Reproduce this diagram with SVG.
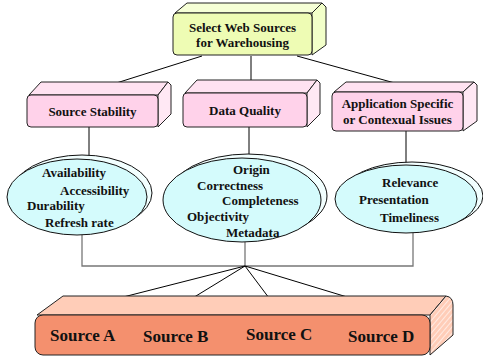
<svg xmlns="http://www.w3.org/2000/svg" width="483" height="356" viewBox="0 0 483 356">
<style>
text{font-family:"Liberation Serif","Times New Roman",serif;font-weight:700;fill:#111}
.bx{stroke:#222;stroke-width:1;stroke-linejoin:round}
.c{stroke:#000;stroke-width:1;fill:none}
.g{stroke:#777;stroke-width:1.3;fill:none}
.el{fill:#d4fbfc;stroke:#111;stroke-width:1}
.sh{fill:#f2ffff;stroke:#111;stroke-width:1}
.t12{font-size:13px}
.t16{font-size:17px}
</style>
<defs>
<pattern id="hatch" width="4" height="4" patternUnits="userSpaceOnUse" patternTransform="rotate(40)">
<rect width="4" height="4" fill="#ffcdb8"/>
<line x1="0" y1="0" x2="0" y2="4" stroke="#fff" stroke-width="1.2"/>
</pattern>
</defs>
<rect width="483" height="356" fill="#fff"/>

<g id="connectors">
<line class="c" x1="202" y1="56" x2="110" y2="85"/>
<line class="c" x1="251" y1="56" x2="251" y2="86"/>
<line class="c" x1="297" y1="56" x2="402" y2="85"/>
<line class="c" x1="89" y1="127" x2="89" y2="156"/>
<line class="c" x1="249" y1="127" x2="249" y2="155"/>
<line class="c" x1="406" y1="131" x2="406" y2="163"/>
<polyline class="g" points="82,235 82,266 413,266 413,233"/>
<line class="g" x1="245" y1="242" x2="245" y2="266"/>
<line class="c" x1="245" y1="266" x2="84" y2="307"/>
<line class="c" x1="245" y1="266" x2="178" y2="307"/>
<line class="c" x1="245" y1="266" x2="275" y2="306"/>
<line class="c" x1="245" y1="266" x2="380" y2="307"/>
</g>

<g font-family="Liberation Serif, Times New Roman, serif" font-weight="bold">
<g id="select">
<polygon class="bx" points="175,13 187,3 322,3 312,13" fill="#f6ffd6"/>
<polygon class="bx" points="312,13 322,3 326,7 326,45 312,55" fill="#f2ffc9"/>
<rect class="bx" x="173" y="13" width="139" height="42" rx="4" fill="#eefcb4"/>
<text class="t12" x="242.5" y="32" text-anchor="middle">Select Web Sources</text>
<text class="t12" x="242.5" y="47" text-anchor="middle">for Warehousing</text>
</g>

<g id="stability">
<polygon class="bx" points="29,95 41,82 168,82 158,95" fill="#ffe2f1"/>
<polygon class="bx" points="158,95 168,82 171,85 171,114 158,127" fill="#ffe8f4"/>
<rect class="bx" x="27" y="95" width="131" height="32" rx="4" fill="#ffd2ea"/>
<text class="t12" x="92.5" y="115.5" text-anchor="middle">Source Stability</text>
</g>

<g id="quality">
<polygon class="bx" points="185,93 197,80 317,80 307,93" fill="#ffe2f1"/>
<polygon class="bx" points="307,93 317,80 320,83 320,114 307,127" fill="#ffe8f4"/>
<rect class="bx" x="183" y="93" width="124" height="34" rx="4" fill="#ffd2ea"/>
<text class="t12" x="245" y="114.5" text-anchor="middle">Data Quality</text>
</g>

<g id="application">
<polygon class="bx" points="334,92 346,82 474,82 463,92" fill="#ffe2f1"/>
<polygon class="bx" points="463,92 474,82 477,85 477,121 463,131" fill="#ffe8f4"/>
<rect class="bx" x="332" y="92" width="131" height="39" rx="4" fill="#ffd2ea"/>
<text class="t12" x="397.5" y="107.5" text-anchor="middle">Application Specific</text>
<text class="t12" x="397.5" y="123.5" text-anchor="middle">or Contexual Issues</text>
</g>

<g id="ellipse-stability">
<ellipse class="sh" cx="82" cy="193" rx="70" ry="38"/>
<ellipse class="el" cx="77" cy="197" rx="70" ry="38"/>
<text class="t12" x="42" y="177">Availability</text>
<text class="t12" x="60" y="195">Accessibility</text>
<text class="t12" x="27" y="210">Durability</text>
<text class="t12" x="45" y="227">Refresh rate</text>
</g>

<g id="ellipse-quality">
<ellipse class="sh" cx="248" cy="196" rx="79" ry="42"/>
<ellipse class="el" cx="242" cy="200" rx="79" ry="42"/>
<text class="t12" x="233" y="174">Origin</text>
<text class="t12" x="197" y="190">Correctness</text>
<text class="t12" x="222" y="205">Completeness</text>
<text class="t12" x="187" y="221">Objectivity</text>
<text class="t12" x="226" y="237">Metadata</text>
</g>

<g id="ellipse-application">
<ellipse class="sh" cx="412" cy="196" rx="71" ry="34"/>
<ellipse class="el" cx="406" cy="199" rx="71" ry="34"/>
<text class="t12" x="382" y="187">Relevance</text>
<text class="t12" x="359" y="204">Presentation</text>
<text class="t12" x="380" y="222">Timeliness</text>
</g>

<g id="sources">
<polygon class="bx" points="37,315 63,296 446,296 430,315" fill="#ffcdb8"/>
<path class="bx" d="M430,315 L446,296 Q453,297 453,305 L453,335 L430,355 Z" fill="url(#hatch)"/>
<rect class="bx" x="35" y="315" width="395" height="40" rx="8" fill="#f4906e"/>
<text class="t16" x="50" y="341">Source A</text>
<text class="t16" x="143" y="342">Source B</text>
<text class="t16" x="246" y="340">Source C</text>
<text class="t16" x="348" y="342">Source D</text>
</g>
</g>
</svg>
